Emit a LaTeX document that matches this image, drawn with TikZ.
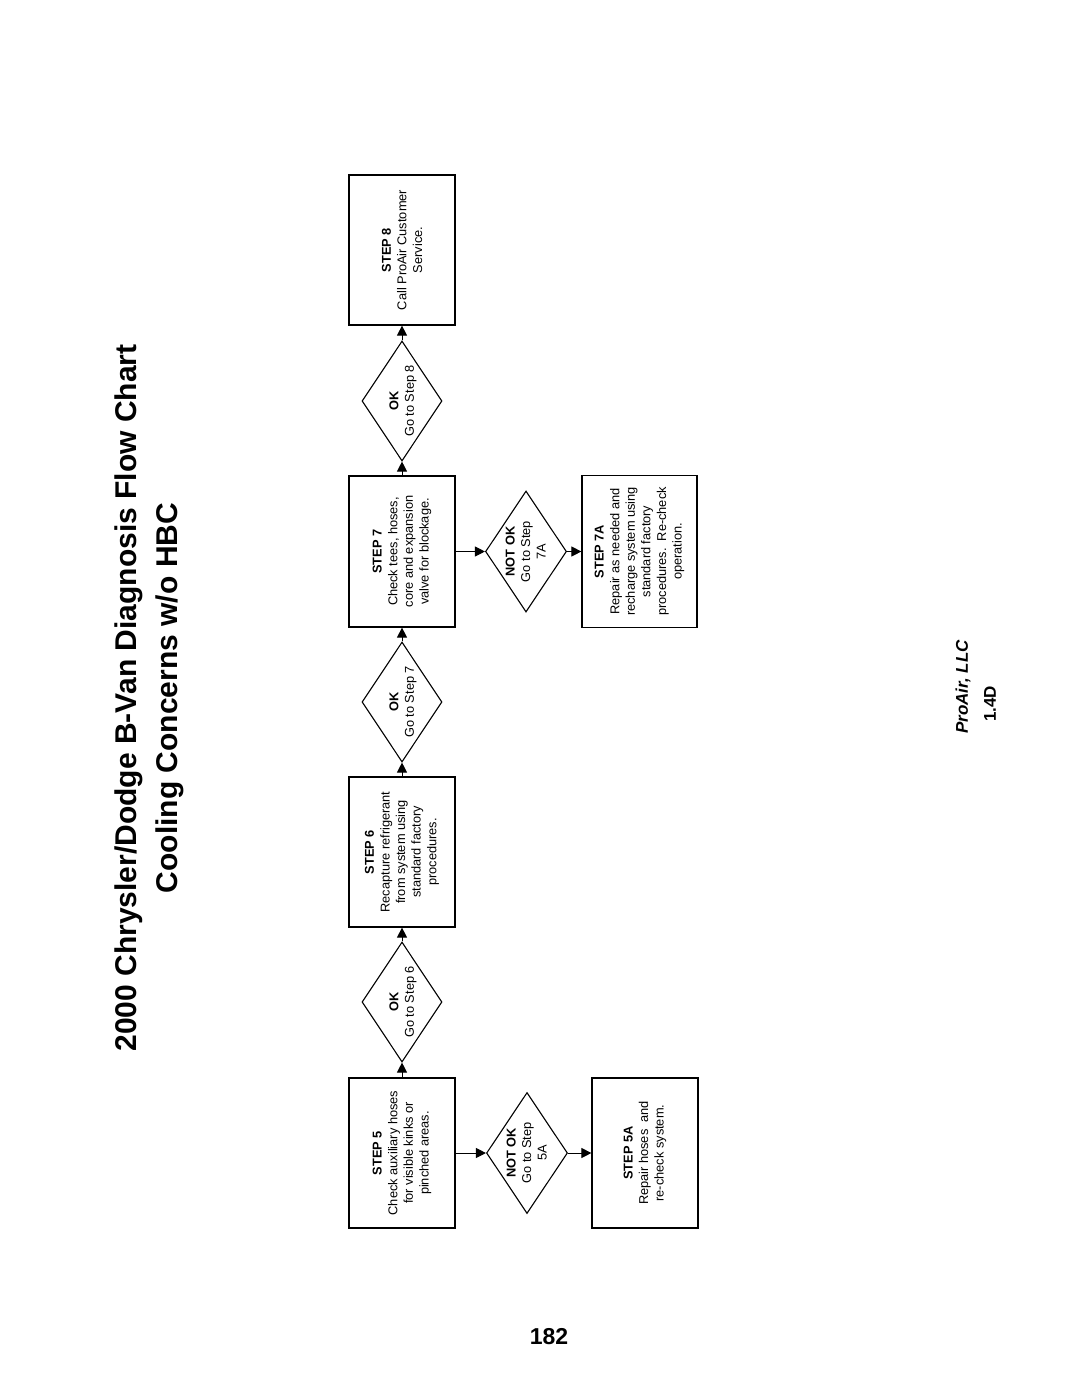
\documentclass[tikz,border=0pt]{standalone}
\usepackage{fontspec}
\setmainfont{Liberation Sans}
\usetikzlibrary{shapes.geometric,arrows.meta}
\newcommand{\dtext}[1]{\raisebox{-4pt}[0pt][0pt]{\makebox[0pt]{\begin{tabular}{@{}c@{}}#1\end{tabular}}}}
\begin{document}
\begin{tikzpicture}[x=1pt,y=-1pt,
  stepbox/.style={draw, line width=1.2pt, rotate=90, minimum width=150pt, minimum height=106pt,
    align=center, inner sep=2pt, font=\fontsize{12.8}{15.6}\selectfont},
  dia/.style={draw, line width=1.1pt, diamond, rotate=90, minimum width=120pt, minimum height=80pt,
    inner sep=0pt, font=\fontsize{12.8}{15.6}\selectfont},
  conn/.style={line width=1pt, -{Triangle[length=10pt,width=10pt]}}]
\useasboundingbox (0,0) rectangle (1071,1386);
\fill[white] (0,0) rectangle (1071,1386);

\node[rotate=90, align=center, font=\bfseries\fontsize{30}{41}\selectfont] (title) at (149,698)
  {2000 Chrysler/Dodge B-Van Diagnosis Flow Chart\\Cooling Concerns w/o HBC};

\node[stepbox] (s5) at (402,1153) {\textbf{STEP 5}\\Check auxiliary hoses\\for visible kinks or\\pinched areas.};
\node[dia] (ok1) at (402,1002) {\dtext{\textbf{OK}\\Go to Step 6}};
\node[stepbox] (s6) at (402,852) {\textbf{STEP 6}\\Recapture refrigerant\\from system using\\standard factory\\procedures.};
\node[dia] (ok2) at (402,702) {\dtext{\textbf{OK}\\Go to Step 7}};
\node[stepbox, minimum width=151pt] (s7) at (402,551.5) {\textbf{STEP 7}\\Check tees, hoses,\\core and expansion\\valve for blockage.};
\node[dia] (ok3) at (402,401) {\dtext{\textbf{OK}\\Go to Step 8}};
\node[stepbox] (s8) at (402,250) {\textbf{STEP 8}\\Call ProAir Customer\\Service.};

\node[dia, minimum height=81pt, minimum width=121pt] (nk5) at (527,1153) {\dtext{\textbf{NOT OK}\\Go to Step\\5A}};
\node[stepbox] (s5a) at (645,1153) {\textbf{STEP 5A}\\Repair hoses\ \ and\\re-check system.};
\node[dia, minimum height=81pt, minimum width=121pt] (nk7) at (526,551.5) {\dtext{\textbf{NOT OK}\\Go to Step\\7A}};
\node[stepbox, minimum height=115pt, minimum width=152pt] (s7a) at (639.5,551.5) {\textbf{STEP 7A}\\Repair as needed and\\recharge system using\\standard factory\\procedures.\ \ Re-check\\operation.};

\draw[conn] (s5) -- (ok1);
\draw[conn] (ok1) -- (s6);
\draw[conn] (s6) -- (ok2);
\draw[conn] (ok2) -- (s7);
\draw[conn] (s7) -- (ok3);
\draw[conn] (ok3) -- (s8);
\draw[conn] (s5) -- (nk5);
\draw[conn] (nk5) -- (s5a);
\draw[conn] (s7) -- (nk7);
\draw[conn] (nk7) -- (s7a);

\node[rotate=90, font=\bfseries\itshape\fontsize{17}{20}\selectfont] (co) at (963,687) {ProAir, LLC};
\node[rotate=90, font=\bfseries\fontsize{17}{20}\selectfont] (rev) at (990,704) {1.4D};
\node[font=\bfseries\fontsize{23}{26}\selectfont] (pg) at (549,1337) {182};
\end{tikzpicture}
\end{document}
